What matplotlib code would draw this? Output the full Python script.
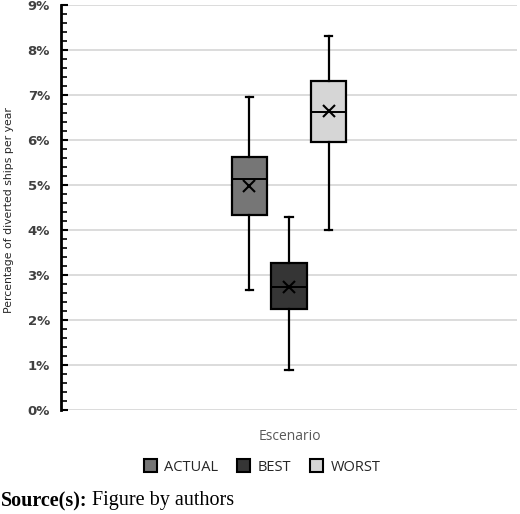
import numpy as np
import matplotlib
matplotlib.use("Agg")
import matplotlib.pyplot as plt
from matplotlib.ticker import FuncFormatter, MultipleLocator
from matplotlib.patches import Patch

# box plot summary (percent)
scenarios = ['ACTUAL', 'BEST', 'WORST']
whis_low = [2.67, 0.90, 4.00]
q1 = [4.33, 2.24, 5.97]
median = [5.13, 2.73, 6.63]
q3 = [5.62, 3.26, 7.32]
whis_high = [6.97, 4.30, 8.32]
mean = [4.98, 2.73, 6.65]
colors = ['#767676', '#353535', '#d6d6d6']

stats = []
for i in range(len(scenarios)):
    stats.append({'label': scenarios[i], 'whislo': whis_low[i], 'q1': q1[i], 'med': median[i],
                  'q3': q3[i], 'whishi': whis_high[i], 'mean': mean[i], 'fliers': []})

fig = plt.figure(figsize=(5.2, 5.14), dpi=100)
ax = fig.add_axes([61 / 520, (514 - 410) / 514, (517 - 61) / 520, (410 - 5.3) / 514])

pos = [-1, 0, 1]
bp = ax.bxp(stats, positions=pos, widths=0.91, capwidths=0.19, patch_artist=True, showmeans=True,
            boxprops=dict(edgecolor='black', linewidth=1.6),
            medianprops=dict(color='black', linewidth=1.4),
            whiskerprops=dict(color='black', linewidth=1.6),
            capprops=dict(color='black', linewidth=1.6),
            meanprops=dict(marker='x', markeredgecolor='black', markersize=8, markeredgewidth=1.5))
for box, c in zip(bp['boxes'], colors):
    box.set_facecolor(c)
for a in bp['boxes'] + bp['whiskers'] + bp['caps'] + bp['medians'] + bp['means']:
    a.set_zorder(3)

ax.set_xlim(-5.77, 5.77)
ax.set_ylim(0, 9)
ax.yaxis.set_major_locator(MultipleLocator(1))
ax.yaxis.set_minor_locator(MultipleLocator(0.2))
ax.yaxis.set_major_formatter(FuncFormatter(lambda v, p: '%d%%' % round(v)))
ax.grid(axis='y', which='major', color='#d9d9d9', linewidth=1.3, zorder=0)
ax.set_axisbelow(True)
ax.tick_params(axis='y', which='major', direction='in', length=5, width=1.5, pad=8,
               labelsize=9.5, labelcolor='#404040')
ax.tick_params(axis='y', which='minor', direction='in', length=4, width=1.2)
for lab in ax.get_yticklabels():
    lab.set_fontweight('bold')
ax.set_xticks([])
for s in ['top', 'right', 'bottom']:
    ax.spines[s].set_visible(False)
ax.spines['left'].set_linewidth(2)

fig.text(9 / 520, 1 - 210 / 514, 'Percentage of diverted ships per year', rotation=90,
         ha='center', va='center', fontsize=7.8, family=['Liberation Sans Narrow', 'DejaVu Sans'],
         color='#262626')
fig.text(290 / 520, 1 - 437 / 514, 'Escenario', ha='center', va='center', fontsize=10,
         family='Open Sans', color='#595959')

handles = [Patch(facecolor=c, edgecolor='black', linewidth=1.5) for c in colors]
fig.legend(handles, scenarios, loc='center', bbox_to_anchor=(262 / 520, 1 - 467 / 514), ncol=3,
           frameon=False, prop={'family': 'Open Sans', 'size': 10.5}, handlelength=0.9,
           handleheight=0.9, handletextpad=0.5, columnspacing=1.3, labelcolor='#262626')

t = fig.text(1 / 520, 1 - 501 / 514, 'Source(s):', ha='left', va='center', fontsize=14.5,
             family='Liberation Serif', weight='bold')
fig.canvas.draw()
bb = t.get_window_extent()
fig.text((bb.x1 + 4) / 520, 1 - 501 / 514, 'Figure by authors', ha='left', va='center',
         fontsize=14.5, family='Liberation Serif')

fig.savefig('out.png', dpi=100)
